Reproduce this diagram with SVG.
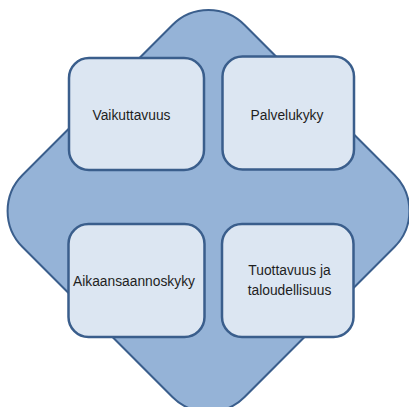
<svg xmlns="http://www.w3.org/2000/svg" width="409" height="407" viewBox="0 0 409 407">
  <style>
    .bg { fill: #95b3d7; stroke: #3a5e8c; stroke-width: 2; }
    .box { fill: #dce6f2; stroke: #3a5e8c; stroke-width: 2.5; }
    .lbl { font-family: "Liberation Sans", Arial, sans-serif; font-size: 13.8px; fill: #1e1e1e; text-anchor: middle; }
  </style>
  <rect width="409" height="407" fill="#ffffff"/>
  <g id="background-diamond">
    <rect class="bg" x="-157" y="-157" width="314" height="314" rx="51" ry="51" transform="translate(208.5 211) rotate(45)"/>
  </g>
  <g id="connectors"></g>
  <g id="node-vaikuttavuus">
    <rect class="box" x="69" y="58" width="135" height="112" rx="20" ry="20"/>
    <text class="lbl" x="131.5" y="120">Vaikuttavuus</text>
  </g>
  <g id="node-palvelukyky">
    <rect class="box" x="222.5" y="56.5" width="131.5" height="113" rx="20" ry="20"/>
    <text class="lbl" x="287" y="120">Palvelukyky</text>
  </g>
  <g id="node-aikaansaannoskyky">
    <rect class="box" x="68.5" y="224" width="136" height="113" rx="20" ry="20"/>
    <text class="lbl" x="134" y="286">Aikaansaannoskyky</text>
  </g>
  <g id="node-tuottavuus">
    <rect class="box" x="222" y="224" width="131.5" height="113" rx="20" ry="20"/>
    <text class="lbl" x="289.5" y="275">Tuottavuus ja</text>
    <text class="lbl" x="289.5" y="295">taloudellisuus</text>
  </g>
</svg>
